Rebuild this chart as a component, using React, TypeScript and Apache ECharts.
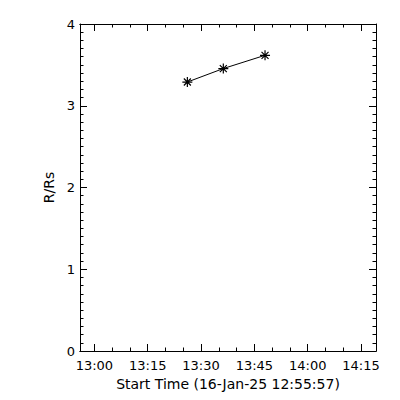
import React, { useEffect, useRef } from "react";
import * as echarts from "echarts";

// Data
const startTimes = ["13:26:09", "13:36:16", "13:48:00"];
const heights = [3.29, 3.455, 3.617];

// Axis ranges & ticks
const axisStart = "12:55:57";
const axisEnd = "14:19:13";
const xMajorTicks = ["13:00", "13:15", "13:30", "13:45", "14:00", "14:15"];
const xMinorTicks = [
  "13:00", "13:05", "13:10", "13:15", "13:20", "13:25", "13:30", "13:35",
  "13:40", "13:45", "13:50", "13:55", "14:00", "14:05", "14:10", "14:15",
];
const yMin = 0;
const yMax = 4;
const yStep = 1;

const xTitle = "Start Time (16-Jan-25 12:55:57)";
const yTitle = "R/Rs";

function toSec(t: string): number {
  const p = t.split(":").map(Number);
  return p[0] * 3600 + p[1] * 60 + (p[2] || 0);
}
function fmt(sec: number): string {
  const h = Math.floor(sec / 3600);
  const m = Math.round((sec - h * 3600) / 60);
  return String(h).padStart(2, "0") + ":" + String(m).padStart(2, "0");
}

const FONT = "DejaVu Sans";
const BLACK = "#000";

export default function App() {
  const ref = useRef<HTMLDivElement>(null);
  useEffect(() => {
    if (!ref.current) return;
    const chart = echarts.init(ref.current, undefined, { renderer: "svg" });
    const xmin = toSec(axisStart);
    const xmax = toSec(axisEnd);
    const major = xMajorTicks.map(toSec);
    const minor = xMinorTicks.map(toSec);

    const mkX = (position: "top" | "bottom", values: number[], len: number, labels: boolean, named: boolean) => ({
      type: "value",
      position,
      min: xmin,
      max: xmax,
      scale: true,
      name: named ? xTitle : "",
      nameLocation: "middle",
      nameGap: 25,
      nameTextStyle: { fontFamily: FONT, fontSize: 14, color: BLACK },
      axisLine: { show: true, lineStyle: { color: BLACK, width: 1 } },
      axisTick: {
        show: true,
        inside: true,
        length: len,
        customValues: values,
        lineStyle: { color: BLACK, width: 1 },
      },
      axisLabel: {
        show: labels,
        customValues: values,
        margin: 8,
        fontFamily: FONT,
        fontSize: 13,
        color: BLACK,
        formatter: (v: number) => fmt(v),
      },
      splitLine: { show: false },
    });

    const mkY = (position: "left" | "right", labels: boolean, named: boolean) => ({
      type: "value",
      position,
      min: yMin,
      max: yMax,
      interval: yStep,
      name: named ? yTitle : "",
      nameLocation: "middle",
      nameGap: 18,
      nameTextStyle: { fontFamily: FONT, fontSize: 14, color: BLACK },
      axisLine: { show: true, lineStyle: { color: BLACK, width: 1 } },
      axisTick: { show: true, inside: true, length: 7, lineStyle: { color: BLACK, width: 1 } },
      minorTick: { show: true, splitNumber: 10, length: 3.5, lineStyle: { color: BLACK, width: 1 } },
      axisLabel: {
        show: labels,
        margin: 5,
        fontFamily: FONT,
        fontSize: 13,
        color: BLACK,
      },
      splitLine: { show: false },
      minorSplitLine: { show: false },
    });

    chart.setOption({
      animation: false,
      backgroundColor: "#fff",
      grid: { left: 80, right: 24, top: 24, bottom: 49, containLabel: false, outerBoundsMode: "none" },
      xAxis: [
        mkX("bottom", major, 7, true, true),
        mkX("bottom", minor, 3.5, false, false),
        mkX("top", major, 7, false, false),
        mkX("top", minor, 3.5, false, false),
      ],
      yAxis: [mkY("left", true, true), mkY("right", false, false)],
      series: [
        {
          type: "line",
          xAxisIndex: 0,
          yAxisIndex: 0,
          data: startTimes.map((t, i) => [toSec(t), heights[i]]),
          symbol: "path://M0 -10 L0 10 M-10 0 L10 0 M-7 -7 L7 7 M-7 7 L7 -7",
          symbolSize: 10,
          itemStyle: { color: BLACK, borderColor: BLACK, borderWidth: 1.2 },
          lineStyle: { color: BLACK, width: 1 },
        },
      ],
    });
    return () => chart.dispose();
  }, []);
  return (
    <div
      ref={ref}
      style={{ position: "fixed", left: 0, top: 0, width: 400, height: 400, background: "#fff" }}
    />
  );
}
